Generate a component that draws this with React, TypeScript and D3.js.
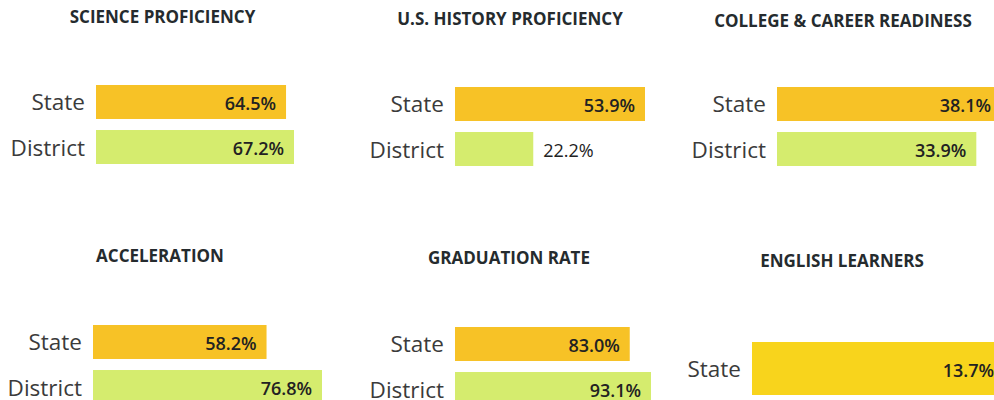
import React from "react";
import * as d3 from "d3";

const panelTitles = [
  "SCIENCE PROFICIENCY",
  "U.S. HISTORY PROFICIENCY",
  "COLLEGE & CAREER READINESS",
  "ACCELERATION",
  "GRADUATION RATE",
  "ENGLISH LEARNERS",
];
const stateValues: number[] = [64.5, 53.9, 38.1, 58.2, 83.0, 13.7];
const districtValues: (number | null)[] = [67.2, 22.2, 33.9, 76.8, 93.1, null];
const seriesNames = ["State", "District"];

const layout = [
  { barX: 96, maxW: 198, top: 85, bottom: 164, titleX: 162.5, titleY: 16 },
  { barX: 455, maxW: 190, top: 87, bottom: 166, titleX: 510, titleY: 18 },
  { barX: 777, maxW: 224, top: 87, bottom: 166, titleX: 843, titleY: 20 },
  { barX: 93, maxW: 229, top: 325, bottom: 404, titleX: 160, titleY: 255 },
  { barX: 455, maxW: 196, top: 327, bottom: 406, titleX: 509, titleY: 257 },
  { barX: 752, maxW: 252, top: 342, bottom: 395, titleX: 842, titleY: 260 },
];

const colors: Record<string, string> = { State: "#F7C226", District: "#D5EC6E" };
const singleColor = "#F8D41C";
const FONT = "'Open Sans', 'DejaVu Sans', sans-serif";

export default function App() {
  return (
    <svg
      width={994}
      height={400}
      style={{ position: "absolute", left: 0, top: 0, background: "#fff" }}
      fontFamily={FONT}
    >
      <rect x={0} y={0} width={994} height={400} fill="#fff" />
      {panelTitles.map((title, i) => {
        const L = layout[i];
        const rows = seriesNames
          .map((name, k) => ({ name, value: k === 0 ? stateValues[i] : districtValues[i] }))
          .filter((r) => r.value !== null) as { name: string; value: number }[];
        const y = d3
          .scaleBand<string>()
          .domain(rows.map((r) => r.name))
          .range([L.top, L.bottom])
          .paddingInner(rows.length > 1 ? 0.245 : 0)
          .paddingOuter(0);
        const maxV = d3.max(rows, (r) => r.value) as number;
        const x = d3.scaleLinear().domain([0, maxV]).range([0, L.maxW]);
        const single = rows.length === 1;
        return (
          <g key={title}>
            <text
              x={L.titleX}
              y={L.titleY}
              textAnchor="middle"
              dominantBaseline="central"
              fontWeight={700}
              fontSize={17}
              fill="#252b2e"
            >
              {title}
            </text>
            {rows.map((r) => {
              const by = y(r.name) as number;
              const bh = y.bandwidth();
              const bw = x(r.value);
              const cy = by + bh / 2;
              const inside = bw > 90;
              return (
                <g key={r.name}>
                  <text
                    x={L.barX - 11}
                    y={cy}
                    textAnchor="end"
                    dominantBaseline="central"
                    fontSize={22.5}
                    fill="#3b3b3b"
                  >
                    {r.name}
                  </text>
                  <rect
                    x={L.barX}
                    y={by}
                    width={bw}
                    height={bh}
                    fill={single ? singleColor : colors[r.name]}
                  />
                  <text
                    x={inside ? L.barX + bw - 10 : L.barX + bw + 10}
                    y={cy + 1}
                    textAnchor={inside ? "end" : "start"}
                    dominantBaseline="central"
                    fontSize={18}
                    fontWeight={inside ? 600 : 400}
                    fill="#222"
                  >
                    {r.value.toFixed(1) + "%"}
                  </text>
                </g>
              );
            })}
          </g>
        );
      })}
    </svg>
  );
}
